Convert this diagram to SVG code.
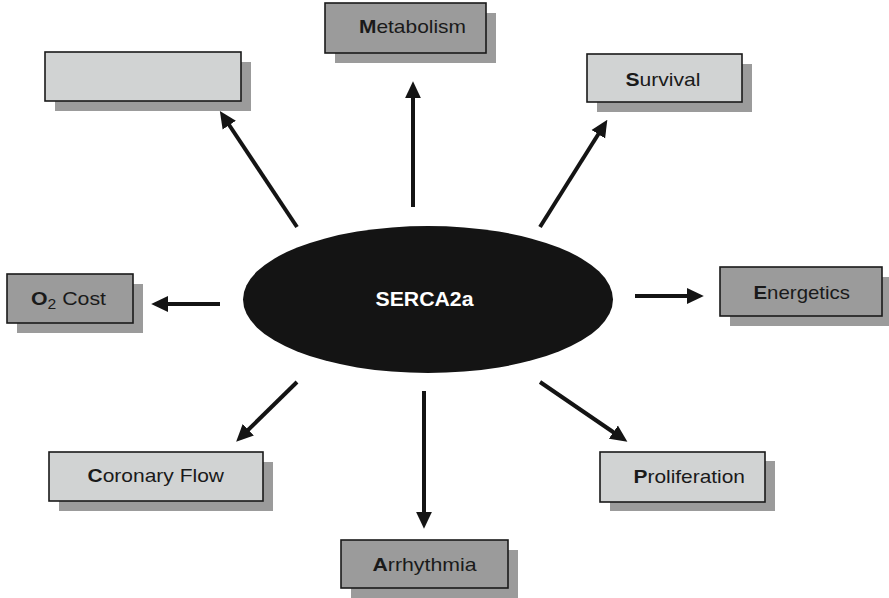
<svg xmlns="http://www.w3.org/2000/svg" width="889" height="598" viewBox="0 0 889 598">
<style>
.box{stroke:#1a1a1a;stroke-width:1.6}
.light{fill:#d1d3d3}
.mid{fill:#9b9b9b}
.shadow{fill:#9b9b9b}
.lbl{font-family:"Liberation Sans",Arial,sans-serif;font-size:19px;fill:#1a1a1a}
.b{font-weight:bold}
.arr{stroke:#141414;stroke-width:4;fill:none;marker-end:url(#ah)}
</style>
<defs>
<marker id="ah" markerUnits="userSpaceOnUse" markerWidth="17" markerHeight="17" viewBox="0 0 16 15" refX="3" refY="7.5" orient="auto">
<path d="M0,0 L16,7.5 L0,15 z" fill="#141414"/>
</marker>
</defs>
<rect width="889" height="598" fill="#ffffff"/>
<g id="connectors">
<line class="arr" x1="297" y1="227" x2="227.5" y2="122.5"/>
<line class="arr" x1="413" y1="207" x2="413" y2="95"/>
<line class="arr" x1="540" y1="227" x2="600" y2="131.5"/>
<line class="arr" x1="220" y1="304" x2="165" y2="304"/>
<line class="arr" x1="635" y1="296" x2="690" y2="296"/>
<line class="arr" x1="297" y1="382" x2="246" y2="432"/>
<line class="arr" x1="424" y1="391" x2="424" y2="515"/>
<line class="arr" x1="540" y1="382" x2="616" y2="434"/>
</g>
<g id="serca2a">
<ellipse cx="428" cy="299.5" rx="185" ry="73.5" fill="#141414"/>
<text x="375.5" y="306" font-family="Liberation Sans,Arial,sans-serif" font-size="20" font-weight="bold" fill="#ffffff" textLength="98" lengthAdjust="spacingAndGlyphs">SERCA2a</text>
</g>
<g id="blank">
<rect class="shadow" x="55" y="62" width="196" height="49"/>
<rect class="box light" x="45" y="52" width="196" height="49"/>
</g>
<g id="metabolism">
<rect class="shadow" x="335" y="13" width="161" height="50"/>
<rect class="box mid" x="325" y="3" width="161" height="50"/>
<text class="lbl" x="359" y="33" textLength="107" lengthAdjust="spacingAndGlyphs"><tspan class="b">M</tspan>etabolism</text>
</g>
<g id="survival">
<rect class="shadow" x="597" y="64" width="155" height="48"/>
<rect class="box light" x="587" y="54" width="155" height="48"/>
<text class="lbl" x="625.5" y="86" textLength="75" lengthAdjust="spacingAndGlyphs"><tspan class="b">S</tspan>urvival</text>
</g>
<g id="o2cost">
<rect class="shadow" x="17" y="284" width="126" height="49"/>
<rect class="box mid" x="7" y="274" width="126" height="49"/>
<text class="lbl" x="31" y="305" textLength="75" lengthAdjust="spacingAndGlyphs"><tspan class="b">O</tspan><tspan font-size="14" dy="4">2</tspan><tspan dy="-4"> Cost</tspan></text>
</g>
<g id="energetics">
<rect class="shadow" x="730" y="277" width="162" height="49"/>
<rect class="box mid" x="720" y="267" width="162" height="49"/>
<text class="lbl" x="753.5" y="299" textLength="96.5" lengthAdjust="spacingAndGlyphs"><tspan class="b">E</tspan>nergetics</text>
</g>
<g id="coronaryflow">
<rect class="shadow" x="59" y="462" width="214" height="49"/>
<rect class="box light" x="49" y="452" width="214" height="49"/>
<text class="lbl" x="87.5" y="481.5" textLength="136.5" lengthAdjust="spacingAndGlyphs"><tspan class="b">C</tspan>oronary Flow</text>
</g>
<g id="proliferation">
<rect class="shadow" x="610" y="461" width="165" height="50"/>
<rect class="box light" x="600" y="452" width="165" height="50"/>
<text class="lbl" x="633.5" y="483" textLength="111.5" lengthAdjust="spacingAndGlyphs"><tspan class="b">P</tspan>roliferation</text>
</g>
<g id="arrhythmia">
<rect class="shadow" x="351" y="550" width="167" height="48"/>
<rect class="box mid" x="341" y="540" width="167" height="48"/>
<text class="lbl" x="372.5" y="571" textLength="104" lengthAdjust="spacingAndGlyphs"><tspan class="b">A</tspan>rrhythmia</text>
</g>
</svg>
